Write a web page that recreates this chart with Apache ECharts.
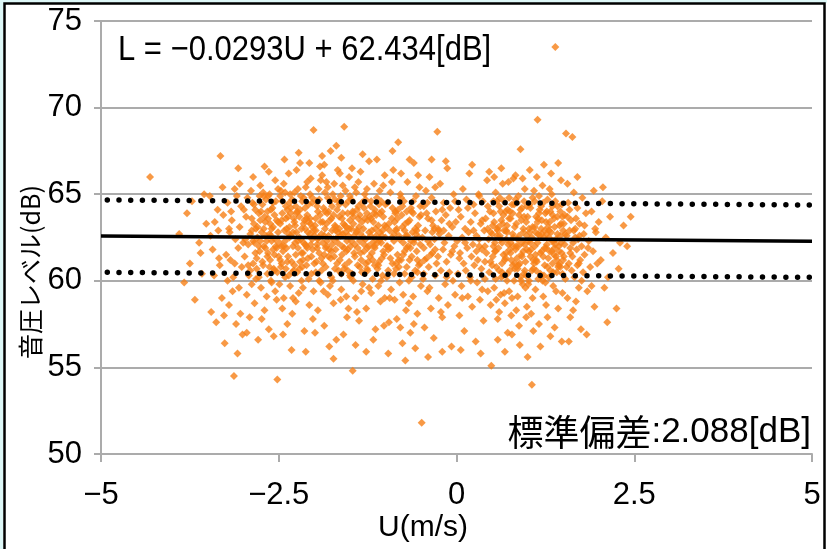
<!DOCTYPE html>
<html>
<head>
<meta charset="utf-8">
<script src="https://cdn.jsdelivr.net/npm/echarts@6/dist/echarts.min.js"></script>
<style>
  html, body { margin: 0; padding: 0; background: #ffffff; }
  #chart { width: 827px; height: 549px; }
</style>
</head>
<body>
<div id="chart"></div>
<script>
// Regression of sound level L [dB] against wind component U [m/s]
const slope = -0.0293;
const intercept = 62.434;
const stdDev = 2.088;

const xTicks = [-5, -2.5, 0, 2.5, 5];
const yTicks = [50, 55, 60, 65, 70, 75];

// Observations [U, L], grouped by U range
const ptsFarLeft = [[-4.31,66.0],[-3.83,59.9],[-3.75,61.0],[-3.79,63.9],[-3.72,64.6],[-3.62,62.2],[-3.58,60.4],[-3.55,65.0],[-3.68,58.9],[-3.52,63.3],[-3.9,62.7],[-3.6,61.6]];

const ptsNeg35 = [[-3.32,67.2],[-3.07,66.5],[-3.13,54.5],[-3.45,58.2],[-3.38,57.6],[-3.41,60.3],[-3.35,62.9],[-3.28,63.8],[-3.22,64.5],[-3.18,61.2],[-3.15,59.4],[-3.11,62.4],[-3.05,63.1],[-3.02,60.8],[-3.47,64.9],[-3.43,61.8],[-3.3,59.0],[-3.26,56.4],[-3.2,58.6],[-3.16,63.5],[-3.09,64.9],[-3.04,58.1],[-3.01,56.9],[-3.36,64.1],[-3.24,61.5],[-3.12,65.3],[-3.07,61.9],[-3.33,60.9],[-3.19,62.8],[-3.1,57.5],[-3.03,64.3],[-3.46,62.6],[-3.29,65.4],[-3.14,60.2],[-3.06,59.6],[-3.4,63.4],[-3.22,60.0],[-3.0,62.2],[-3.17,64.0],[-3.27,58.0],[-3.08,55.8],[-3.34,61.3],[-3.05,65.6],[-3.2,63.0],[-3.12,61.0]];

const ptsNeg30 = [[-2.98,61.4],[-2.96,63.7],[-2.95,59.2],[-2.94,64.8],[-2.93,62.1],[-2.91,57.9],[-2.9,60.6],[-2.89,65.2],[-2.88,62.9],[-2.86,61.0],[-2.85,63.3],[-2.84,58.7],[-2.83,64.1],[-2.82,60.1],[-2.8,62.5],[-2.79,56.6],[-2.78,63.9],[-2.77,61.7],[-2.76,65.5],[-2.75,59.6],[-2.74,62.8],[-2.73,64.4],[-2.72,60.9],[-2.71,63.0],[-2.7,58.3],[-2.69,61.9],[-2.68,64.7],[-2.67,62.3],[-2.66,60.4],[-2.65,63.6],[-2.64,57.2],[-2.63,65.0],[-2.62,61.2],[-2.61,62.6],[-2.6,59.9],[-2.59,64.2],[-2.58,63.1],[-2.57,60.7],[-2.56,61.5],[-2.55,65.8],[-2.54,62.0],[-2.53,58.9],[-2.52,54.3],[-2.51,63.4],[-2.97,62.4],[-2.92,60.3],[-2.87,64.5],[-2.81,61.3],[-2.76,63.5],[-2.71,62.0],[-2.66,64.0],[-2.61,60.0],[-2.56,63.8],[-2.53,61.9],[-2.99,64.1],[-2.9,62.7],[-2.84,62.2],[-2.78,60.2],[-2.72,65.1],[-2.67,59.1],[-2.62,63.3],[-2.58,61.8],[-2.54,64.6],[-2.95,57.0],[-2.86,66.0],[-2.74,57.8],[-2.64,66.3],[-2.57,56.8],[-2.82,63.0],[-2.69,63.4],[-2.6,62.3],[-2.52,60.5],[-2.93,60.9],[-2.77,64.9],[-2.65,61.6],[-2.55,59.4],[-2.88,59.8],[-2.7,66.6],[-2.63,62.7],[-2.51,65.3]];

const ptsNeg25 = [[-2.49,62.2],[-2.48,64.9],[-2.47,60.8],[-2.46,63.5],[-2.45,58.4],[-2.44,61.7],[-2.43,65.6],[-2.42,62.9],[-2.41,60.2],[-2.4,64.3],[-2.39,63.0],[-2.38,57.5],[-2.37,61.4],[-2.36,66.2],[-2.35,62.5],[-2.34,59.7],[-2.33,63.9],[-2.32,61.1],[-2.31,64.7],[-2.3,62.0],[-2.29,60.6],[-2.28,65.1],[-2.27,63.2],[-2.26,58.8],[-2.25,62.8],[-2.24,64.0],[-2.23,61.9],[-2.22,59.3],[-2.21,63.7],[-2.2,66.8],[-2.19,62.4],[-2.18,60.0],[-2.17,64.6],[-2.16,61.6],[-2.15,63.3],[-2.14,57.1],[-2.13,62.1],[-2.12,65.4],[-2.11,60.9],[-2.1,63.8],[-2.09,61.3],[-2.08,64.4],[-2.07,58.6],[-2.06,62.7],[-2.05,65.9],[-2.04,60.4],[-2.03,63.1],[-2.02,61.8],[-2.01,68.7],[-2.0,62.6],[-2.48,61.2],[-2.45,63.9],[-2.43,59.0],[-2.41,62.3],[-2.38,64.1],[-2.36,60.3],[-2.33,62.6],[-2.31,58.1],[-2.28,63.4],[-2.26,61.5],[-2.23,65.3],[-2.21,60.7],[-2.18,63.0],[-2.16,59.6],[-2.13,64.2],[-2.11,62.0],[-2.08,60.1],[-2.06,63.6],[-2.03,64.8],[-2.01,59.4],[-2.47,65.2],[-2.44,56.9],[-2.39,61.9],[-2.34,65.0],[-2.29,63.6],[-2.24,60.5],[-2.19,64.9],[-2.14,63.5],[-2.09,62.8],[-2.04,61.4],[-2.46,62.0],[-2.4,60.7],[-2.35,64.5],[-2.3,59.0],[-2.25,66.4],[-2.2,61.1],[-2.15,62.2],[-2.1,65.7],[-2.05,63.3],[-2.02,57.8],[-2.42,67.0],[-2.32,56.0],[-2.22,67.4],[-2.12,55.9],[-2.07,66.8],[-2.37,63.7],[-2.27,62.2],[-2.17,60.8],[-2.49,59.8],[-2.03,62.4]];

const ptsNeg20 = [[-1.99,63.2],[-1.98,60.5],[-1.97,64.6],[-1.96,62.1],[-1.95,58.3],[-1.94,65.3],[-1.93,61.6],[-1.92,63.8],[-1.91,59.9],[-1.9,62.7],[-1.89,66.1],[-1.88,61.0],[-1.87,64.2],[-1.86,57.4],[-1.85,63.0],[-1.84,60.8],[-1.83,65.7],[-1.82,62.3],[-1.81,59.2],[-1.8,64.0],[-1.79,61.8],[-1.78,63.5],[-1.77,67.5],[-1.76,60.2],[-1.75,62.9],[-1.74,65.0],[-1.73,58.7],[-1.72,61.4],[-1.71,64.7],[-1.7,63.1],[-1.69,56.6],[-1.68,62.5],[-1.67,66.4],[-1.66,60.6],[-1.65,63.7],[-1.64,61.2],[-1.63,64.9],[-1.62,59.5],[-1.61,62.0],[-1.6,65.5],[-1.59,63.3],[-1.58,68.9],[-1.57,60.9],[-1.56,64.4],[-1.55,61.7],[-1.54,57.9],[-1.53,63.9],[-1.52,62.6],[-1.51,66.0],[-1.5,60.3],[-1.98,62.9],[-1.96,64.3],[-1.93,60.0],[-1.91,65.8],[-1.88,63.4],[-1.86,61.5],[-1.83,62.0],[-1.81,64.8],[-1.78,59.7],[-1.76,63.6],[-1.73,62.4],[-1.71,60.7],[-1.68,64.1],[-1.66,62.8],[-1.63,58.9],[-1.61,63.6],[-1.58,61.9],[-1.56,65.2],[-1.53,60.6],[-1.51,63.0],[-1.97,61.1],[-1.92,66.6],[-1.87,59.4],[-1.82,63.9],[-1.77,61.3],[-1.72,65.6],[-1.67,62.2],[-1.62,60.4],[-1.57,63.2],[-1.52,64.6],[-1.99,57.0],[-1.89,67.2],[-1.79,56.2],[-1.69,67.8],[-1.59,56.9],[-1.94,62.5],[-1.84,61.9],[-1.74,60.0],[-1.64,66.2],[-1.54,62.3],[-1.95,64.0],[-1.85,65.1],[-1.75,64.3],[-1.65,63.0],[-1.55,59.1],[-1.9,61.3],[-1.8,62.6],[-1.7,61.8],[-1.6,62.7],[-1.5,63.5],[-1.62,67.1],[-1.73,55.5],[-1.86,66.7],[-1.52,58.4]];

const ptsNeg15 = [[-1.49,62.0],[-1.48,64.7],[-1.47,60.4],[-1.46,54.8],[-1.45,63.3],[-1.44,61.6],[-1.43,65.4],[-1.42,59.0],[-1.41,62.8],[-1.4,64.1],[-1.39,60.9],[-1.38,63.6],[-1.37,57.7],[-1.36,62.3],[-1.35,66.3],[-1.34,61.2],[-1.33,64.5],[-1.32,59.8],[-1.31,63.0],[-1.3,61.7],[-1.29,65.0],[-1.28,62.4],[-1.27,58.4],[-1.26,63.9],[-1.25,60.6],[-1.24,62.0],[-1.23,66.9],[-1.22,61.4],[-1.21,64.3],[-1.2,59.3],[-1.19,62.9],[-1.18,60.1],[-1.17,63.4],[-1.16,65.6],[-1.15,61.9],[-1.14,57.2],[-1.13,62.6],[-1.12,64.8],[-1.11,60.7],[-1.1,63.2],[-1.09,61.1],[-1.08,65.2],[-1.07,58.8],[-1.06,62.2],[-1.05,64.0],[-1.04,60.3],[-1.03,63.7],[-1.02,61.5],[-1.01,66.1],[-1.0,62.5],[-1.48,63.0],[-1.45,60.0],[-1.43,62.1],[-1.4,58.2],[-1.38,65.7],[-1.35,62.7],[-1.33,60.5],[-1.3,64.2],[-1.28,61.0],[-1.25,63.5],[-1.23,59.6],[-1.2,64.6],[-1.18,62.2],[-1.15,60.9],[-1.13,63.8],[-1.1,59.7],[-1.08,62.8],[-1.05,61.3],[-1.03,65.5],[-1.01,59.0],[-1.47,66.5],[-1.42,56.3],[-1.37,63.1],[-1.32,67.3],[-1.27,55.9],[-1.22,63.7],[-1.17,56.6],[-1.12,67.0],[-1.07,62.4],[-1.02,57.4],[-1.44,62.6],[-1.34,59.4],[-1.24,61.1],[-1.14,63.0],[-1.04,62.9],[-1.49,60.2],[-1.39,61.9],[-1.29,63.6],[-1.19,61.6],[-1.09,64.4],[-1.46,64.0],[-1.36,60.8],[-1.26,65.3],[-1.16,62.0],[-1.06,60.0]];

const ptsNeg10 = [[-0.99,63.1],[-0.98,60.2],[-0.97,64.5],[-0.96,61.8],[-0.95,57.6],[-0.94,62.9],[-0.93,65.1],[-0.92,59.5],[-0.91,63.6],[-0.9,61.0],[-0.89,66.4],[-0.88,62.3],[-0.87,58.9],[-0.86,64.0],[-0.85,60.7],[-0.84,63.0],[-0.83,61.5],[-0.82,68.0],[-0.81,62.6],[-0.8,59.9],[-0.79,65.0],[-0.78,61.2],[-0.77,63.8],[-0.76,56.4],[-0.75,62.2],[-0.74,64.6],[-0.73,60.4],[-0.72,63.3],[-0.71,58.3],[-0.7,61.9],[-0.69,65.7],[-0.68,62.0],[-0.67,60.0],[-0.66,63.5],[-0.65,57.0],[-0.64,64.2],[-0.63,61.4],[-0.62,62.8],[-0.61,59.1],[-0.6,66.8],[-0.59,62.4],[-0.58,60.6],[-0.57,64.9],[-0.56,61.7],[-0.55,58.1],[-0.54,63.2],[-0.53,60.9],[-0.52,65.4],[-0.51,62.1],[-0.5,59.7],[-0.49,51.8],[-0.97,62.0],[-0.94,59.0],[-0.91,65.7],[-0.88,60.4],[-0.85,62.9],[-0.82,64.1],[-0.79,57.3],[-0.76,63.1],[-0.73,61.7],[-0.7,64.0],[-0.67,58.7],[-0.64,62.3],[-0.61,63.9],[-0.58,56.1],[-0.55,61.2],[-0.52,63.7],[-0.96,55.8],[-0.9,67.5],[-0.84,57.8],[-0.78,66.2],[-0.72,55.4],[-0.66,67.0],[-0.6,57.5],[-0.54,66.1],[-0.93,61.9],[-0.87,63.4],[-0.81,60.8],[-0.75,59.2],[-0.69,62.6],[-0.63,60.2],[-0.57,62.7],[-0.51,61.0]];

const ptsNeg05 = [[-0.48,62.5],[-0.47,60.1],[-0.46,64.3],[-0.45,57.3],[-0.44,62.9],[-0.43,65.2],[-0.42,61.3],[-0.41,59.4],[-0.4,63.6],[-0.39,60.8],[-0.38,66.0],[-0.37,62.1],[-0.36,58.4],[-0.35,64.8],[-0.34,61.6],[-0.33,63.2],[-0.32,56.7],[-0.31,62.4],[-0.3,60.3],[-0.29,64.0],[-0.28,61.0],[-0.27,68.6],[-0.26,63.0],[-0.25,59.0],[-0.24,62.7],[-0.23,65.6],[-0.22,60.6],[-0.21,63.5],[-0.2,57.9],[-0.19,61.8],[-0.18,64.5],[-0.17,62.2],[-0.16,59.8],[-0.15,63.8],[-0.14,61.1],[-0.13,66.5],[-0.12,58.6],[-0.11,62.6],[-0.1,60.5],[-0.09,64.2],[-0.08,61.5],[-0.07,56.2],[-0.06,63.1],[-0.05,60.0],[-0.04,65.0],[-0.03,62.0],[-0.02,59.2],[-0.01,63.4],[-0.46,61.9],[-0.42,63.9],[-0.38,59.6],[-0.34,62.8],[-0.3,65.4],[-0.26,61.4],[-0.22,58.2],[-0.18,62.9],[-0.14,60.2],[-0.1,63.3],[-0.06,61.7],[-0.02,64.6],[-0.4,55.6],[-0.2,55.9],[-0.35,67.0],[-0.15,66.9]];

const ptsPos00 = [[0.01,62.3],[0.02,60.4],[0.03,64.1],[0.04,58.0],[0.05,61.6],[0.06,63.7],[0.07,59.7],[0.08,62.5],[0.09,65.3],[0.1,61.0],[0.11,57.1],[0.12,63.0],[0.13,60.6],[0.14,64.7],[0.15,61.9],[0.16,59.1],[0.17,62.8],[0.18,66.2],[0.19,60.2],[0.2,63.4],[0.21,61.4],[0.22,58.5],[0.23,62.1],[0.24,64.4],[0.25,60.9],[0.26,63.9],[0.27,56.5],[0.28,62.6],[0.29,59.9],[0.3,61.2],[0.31,65.0],[0.32,62.0],[0.33,58.9],[0.34,63.3],[0.35,60.7],[0.36,61.8],[0.37,64.6],[0.38,57.7],[0.39,62.9],[0.4,60.1],[0.41,63.6],[0.42,61.6],[0.43,65.8],[0.44,59.4],[0.45,62.4],[0.46,60.5],[0.47,64.0],[0.48,61.1],[0.49,55.1],[0.5,62.7],[0.04,61.3],[0.08,59.0],[0.12,62.2],[0.16,64.2],[0.2,60.0],[0.24,62.9],[0.28,61.7],[0.32,64.9],[0.36,59.5],[0.4,62.0],[0.44,63.0],[0.48,58.6],[0.06,56.0],[0.22,66.7],[0.34,55.8],[0.46,66.3]];

const ptsPos05 = [[0.51,61.4],[0.52,63.9],[0.53,59.6],[0.54,62.2],[0.55,65.1],[0.56,60.8],[0.57,63.0],[0.58,57.8],[0.59,61.9],[0.6,64.3],[0.61,62.6],[0.62,59.2],[0.63,63.5],[0.64,61.0],[0.65,65.6],[0.66,60.3],[0.67,62.9],[0.68,58.7],[0.69,64.0],[0.7,61.6],[0.71,63.2],[0.72,57.0],[0.73,62.1],[0.74,64.8],[0.75,60.6],[0.76,63.6],[0.77,61.2],[0.78,59.0],[0.79,62.7],[0.8,65.9],[0.81,60.0],[0.82,63.1],[0.83,61.8],[0.84,58.3],[0.85,64.5],[0.86,62.4],[0.87,60.9],[0.88,63.8],[0.89,56.3],[0.9,67.6],[0.91,61.5],[0.92,64.2],[0.93,59.8],[0.94,62.8],[0.95,60.4],[0.96,65.3],[0.97,61.1],[0.98,63.4],[0.99,58.5],[1.0,55.6],[0.52,62.0],[0.55,60.1],[0.57,64.6],[0.6,58.2],[0.62,62.4],[0.65,63.3],[0.67,59.3],[0.7,62.9],[0.72,64.1],[0.75,61.8],[0.77,58.0],[0.8,62.5],[0.82,60.7],[0.85,61.3],[0.87,64.9],[0.9,60.2],[0.92,62.2],[0.95,63.7],[0.97,59.6],[0.99,62.6],[0.53,66.0],[0.58,56.6],[0.63,66.5],[0.68,55.9],[0.73,65.7],[0.78,56.9],[0.83,66.1],[0.88,57.4],[0.93,65.9],[0.98,57.9],[0.54,61.7],[0.59,63.1],[0.64,60.5],[0.69,61.3],[0.74,59.4],[0.79,63.9],[0.84,62.0],[0.89,61.0],[0.94,61.7],[0.99,64.3],[0.56,58.9],[0.61,64.8],[0.66,61.5],[0.71,60.0],[0.76,62.2],[0.81,64.4],[0.86,59.1],[0.91,63.5],[0.96,60.6],[0.51,63.2]];

const ptsPos10 = [[1.01,62.3],[1.02,60.0],[1.03,64.4],[1.04,61.4],[1.05,58.1],[1.06,54.0],[1.07,63.1],[1.08,60.7],[1.09,65.2],[1.1,62.0],[1.11,59.5],[1.12,63.7],[1.13,61.1],[1.14,69.3],[1.15,62.7],[1.16,57.5],[1.17,64.1],[1.18,60.4],[1.19,63.0],[1.2,61.7],[1.21,65.5],[1.22,59.1],[1.23,62.5],[1.24,60.9],[1.25,63.9],[1.26,58.6],[1.27,62.1],[1.28,64.7],[1.29,61.3],[1.3,60.2],[1.31,63.4],[1.32,56.8],[1.33,62.8],[1.34,65.0],[1.35,61.0],[1.36,59.7],[1.37,63.6],[1.38,61.9],[1.39,73.5],[1.4,62.4],[1.41,60.5],[1.42,64.3],[1.43,58.4],[1.44,62.0],[1.45,63.2],[1.46,60.8],[1.47,65.8],[1.48,61.6],[1.49,59.3],[1.5,62.9],[1.02,63.0],[1.05,61.8],[1.07,59.0],[1.1,64.6],[1.12,61.2],[1.15,60.1],[1.17,62.6],[1.2,63.5],[1.22,61.4],[1.25,59.9],[1.27,64.0],[1.3,62.5],[1.32,60.6],[1.35,63.8],[1.37,61.5],[1.4,59.4],[1.42,62.7],[1.45,61.0],[1.47,63.3],[1.49,60.4],[1.03,66.4],[1.08,57.1],[1.13,66.0],[1.18,56.2],[1.23,66.7],[1.28,57.9],[1.33,66.2],[1.38,57.3],[1.43,66.8],[1.48,56.5],[1.04,62.2],[1.09,61.0],[1.14,63.4],[1.19,60.3],[1.24,62.9],[1.29,63.1],[1.34,61.7],[1.39,64.6],[1.44,60.9],[1.49,63.7],[1.06,60.6],[1.11,62.8],[1.16,64.9],[1.21,60.0],[1.26,61.9],[1.31,65.3],[1.36,62.3],[1.41,61.2],[1.46,64.0],[1.01,59.8]];

const ptsPos15 = [[1.51,61.4],[1.52,63.8],[1.53,60.1],[1.54,68.5],[1.55,62.6],[1.56,59.0],[1.57,64.5],[1.58,61.0],[1.59,62.9],[1.6,57.9],[1.61,63.5],[1.62,60.6],[1.63,68.3],[1.64,62.2],[1.65,65.1],[1.66,60.2],[1.67,63.0],[1.68,58.8],[1.69,61.8],[1.7,64.2],[1.71,62.4],[1.72,59.6],[1.73,63.3],[1.74,61.2],[1.75,57.2],[1.76,62.0],[1.77,64.8],[1.78,60.5],[1.79,62.7],[1.8,61.5],[1.82,63.9],[1.84,59.4],[1.86,62.3],[1.88,60.8],[1.9,64.0],[1.92,61.7],[1.94,58.5],[1.96,62.8],[1.98,61.0],[2.0,63.4],[1.52,62.1],[1.56,65.6],[1.6,61.6],[1.64,58.3],[1.68,63.6],[1.72,61.0],[1.76,60.0],[1.8,63.2],[1.85,61.9],[1.9,59.7],[1.95,63.0],[1.58,56.5],[1.7,66.0],[1.83,56.9],[1.93,65.2]];

const ptsFarRight = [[2.03,61.2],[2.05,64.6],[2.08,59.6],[2.1,62.5],[2.13,60.2],[2.16,63.7],[2.2,61.6],[2.25,58.4],[2.3,62.2],[2.35,63.2],[2.4,62.0],[2.45,63.7],[2.12,57.6],[2.28,60.7],[2.06,65.4]];

// Dense core of the two clusters
const ptsCoreWest = [[-2.88,63.6],[-2.85,64.4],[-2.83,61.6],[-2.8,63.1],[-2.78,62.0],[-2.75,64.0],[-2.73,61.1],[-2.7,63.7],[-2.68,62.6],[-2.65,64.9],[-2.63,60.8],[-2.6,63.0],[-2.58,64.5],[-2.55,62.4],[-2.53,63.5],[-2.5,61.4],[-2.48,63.3],[-2.45,64.6],[-2.43,62.0],[-2.4,63.6],[-2.38,61.1],[-2.35,63.1],[-2.33,64.2],[-2.3,62.8],[-2.28,60.9],[-2.25,63.9],[-2.23,62.3],[-2.2,64.1],[-2.18,61.6],[-2.15,64.8],[-2.13,63.0],[-2.1,61.9],[-2.08,63.4],[-2.05,62.1],[-2.03,64.5],[-2.0,61.0],[-1.98,63.6],[-1.95,62.4],[-1.93,64.7],[-1.9,60.6],[-1.88,62.2],[-1.85,64.0],[-1.83,63.3],[-1.8,61.4],[-1.78,64.6],[-1.75,62.1],[-1.73,63.8],[-1.7,62.9],[-1.68,61.0],[-1.65,64.4],[-1.63,62.6],[-1.6,63.9],[-1.58,60.7],[-1.55,63.1],[-1.53,61.8],[-1.5,64.9],[-1.48,62.3],[-1.45,63.7],[-1.43,61.4],[-1.4,62.9],[-1.38,64.3],[-1.35,61.6],[-1.33,63.4],[-1.3,62.1],[-1.28,64.7],[-1.25,61.9],[-1.23,62.8],[-1.2,63.6],[-1.18,61.2],[-1.15,64.1],[-1.13,62.4],[-1.1,60.9],[-1.08,63.9],[-1.05,62.6],[-1.03,61.7],[-1.0,64.4],[-0.98,62.0],[-0.95,63.3],[-0.93,61.3],[-0.9,64.2],[-0.88,62.7],[-0.85,61.0],[-0.83,63.6],[-0.8,62.4],[-0.78,64.8],[-0.75,61.5],[-0.73,62.9],[-0.7,60.8],[-0.68,63.4],[-0.65,61.9],[-0.63,64.0],[-0.6,62.2],[-0.58,63.0],[-0.55,60.5],[-0.53,62.5],[-0.5,63.8],[-0.45,61.2],[-0.4,62.3],[-0.35,63.5],[-0.3,61.8],[-2.86,62.3],[-2.81,60.7],[-2.76,62.3],[-2.71,64.9],[-2.66,61.4],[-2.61,64.1],[-2.56,60.6],[-2.51,62.8],[-2.46,61.0],[-2.41,65.1],[-2.36,62.7],[-2.31,60.5],[-2.26,64.3],[-2.21,62.5],[-2.16,61.2],[-2.11,63.6],[-2.06,65.0],[-2.01,62.9],[-1.96,61.9],[-1.91,63.4],[-1.86,62.6],[-1.81,65.4],[-1.76,61.7],[-1.71,63.2],[-1.66,64.6],[-1.61,61.5],[-1.56,62.8],[-1.51,61.1],[-1.46,63.9],[-1.41,65.1],[-1.36,63.8],[-1.31,62.5],[-1.26,60.7],[-1.21,62.6],[-1.16,63.9],[-1.11,62.2],[-1.06,64.6],[-1.01,63.2],[-0.96,60.6],[-0.91,62.5],[-0.86,63.9],[-0.81,61.2],[-0.76,64.3],[-0.71,62.6],[-0.66,61.2],[-0.61,64.6],[-0.56,62.9],[-0.51,64.3],[-0.46,60.4],[-0.41,64.5],[-0.36,61.5],[-0.31,63.0],[-0.25,62.9],[-0.2,64.1]];

const ptsCoreEast = [[0.32,62.4],[0.36,63.5],[0.4,61.1],[0.44,64.3],[0.48,62.8],[0.5,60.9],[0.53,63.4],[0.55,61.7],[0.57,62.6],[0.6,60.6],[0.62,64.0],[0.64,62.2],[0.66,63.8],[0.68,61.2],[0.7,62.4],[0.72,60.4],[0.74,63.6],[0.76,61.6],[0.78,64.4],[0.8,62.0],[0.82,61.0],[0.84,63.3],[0.86,60.7],[0.88,62.6],[0.9,64.1],[0.92,61.4],[0.94,63.0],[0.96,62.1],[0.98,60.3],[1.0,63.7],[1.02,61.7],[1.04,64.2],[1.06,62.5],[1.08,61.2],[1.1,63.1],[1.12,60.6],[1.14,62.2],[1.16,63.9],[1.18,61.6],[1.2,62.7],[1.22,64.5],[1.24,61.9],[1.26,63.4],[1.28,60.8],[1.3,62.9],[1.32,64.0],[1.34,62.3],[1.36,60.5],[1.38,63.1],[1.4,61.4],[1.42,63.7],[1.44,61.7],[1.46,62.6],[1.48,64.4],[1.5,61.2],[1.53,62.7],[1.56,63.7],[1.6,61.9],[1.65,62.9],[1.7,60.9],[0.52,64.6],[0.58,62.9],[0.63,60.2],[0.67,64.6],[0.71,62.8],[0.75,64.0],[0.79,60.9],[0.83,64.7],[0.87,62.0],[0.91,60.0],[0.95,64.6],[0.99,61.8],[1.03,62.8],[1.07,64.8],[1.11,61.5],[1.15,63.6],[1.19,64.3],[1.23,60.3],[1.27,62.7],[1.31,61.7],[1.35,64.3],[1.39,62.1],[1.43,60.8],[1.47,62.2],[1.51,63.3],[1.55,60.8],[1.59,64.1],[1.63,61.4],[1.67,62.5],[1.73,62.6]];

const observations = [].concat(ptsFarLeft, ptsNeg35, ptsNeg30, ptsNeg25, ptsNeg20, ptsNeg15,
  ptsNeg10, ptsNeg05, ptsPos00, ptsPos05, ptsPos10, ptsPos15, ptsFarRight,
  ptsCoreWest, ptsCoreEast);

const fitAt = u => intercept + slope * u;
const fitLine = [[xTicks[0], fitAt(xTicks[0])], [xTicks[4], fitAt(xTicks[4])]];
const upperBand = fitLine.map(p => [p[0], p[1] + stdDev]);
const lowerBand = fitLine.map(p => [p[0], p[1] - stdDev]);

const numFont = "'Liberation Sans', sans-serif";
const jpFont = "'Noto Sans CJK JP', sans-serif";
const gray = '#ABABAB';
const fmtNum = v => (v < 0 ? '\u2212' : '') + Math.abs(v);

const chart = echarts.init(document.getElementById('chart'), null, { renderer: 'canvas' });

const dotted = {
  color: '#000', width: 5.5, type: [0, 11.7], cap: 'round', dashOffset: 5.4
};

chart.setOption({
  animation: false,
  backgroundColor: '#ffffff',
  grid: { left: 101, right: 15, top: 21, bottom: 95, containLabel: false },
  xAxis: {
    type: 'value', min: xTicks[0], max: xTicks[4], interval: 2.5,
    axisLine: { show: true, onZero: false, lineStyle: { color: gray, width: 2 } },
    axisTick: { show: true, inside: false, length: 8, lineStyle: { color: gray, width: 2 } },
    splitLine: { show: false },
    axisLabel: { margin: 26, fontSize: 31, color: '#000', fontFamily: numFont, formatter: fmtNum }
  },
  yAxis: {
    type: 'value', min: yTicks[0], max: yTicks[5], interval: 5,
    axisLine: { show: true, onZero: false, lineStyle: { color: gray, width: 2 } },
    axisTick: { show: true, inside: false, length: 7, lineStyle: { color: gray, width: 2 } },
    splitLine: { show: true, lineStyle: { color: gray, width: 2 } },
    axisLabel: { margin: 19, fontSize: 31, color: '#000', fontFamily: numFont, formatter: fmtNum }
  },
  series: [
    {
      type: 'scatter', data: observations, symbol: 'diamond', symbolSize: 8,
      itemStyle: { color: '#F67F17' }, z: 2, silent: true
    },
    {
      type: 'line', data: fitLine, symbol: 'none', z: 3, silent: true,
      lineStyle: { color: '#000', width: 3.5 }
    },
    { type: 'line', data: upperBand, symbol: 'none', z: 3, silent: true, lineStyle: dotted },
    { type: 'line', data: lowerBand, symbol: 'none', z: 3, silent: true, lineStyle: dotted }
  ],
  graphic: [
    { type: 'rect', silent: true, shape: { x: 0, y: 0, width: 827, height: 3 }, style: { fill: '#DDF7F7' } },
    { type: 'rect', silent: true, shape: { x: 0, y: 0, width: 3, height: 549 }, style: { fill: '#DDF7F7' } },
    { type: 'rect', silent: true, shape: { x: 4.5, y: 3.5, width: 820, height: 560 },
      style: { fill: null, stroke: '#000', lineWidth: 2.5 } },
    {
      type: 'text', silent: true, x: 118, y: 50, scaleY: 1.12,
      style: {
        text: 'L = \u22120.0293U + 62.434[dB]', fill: '#000',
        font: "31px 'Liberation Sans', sans-serif",
        textVerticalAlign: 'middle'
      }
    },
    {
      type: 'text', silent: true, x: 811, y: 432,
      style: {
        text: '{j|標準偏差}{n|:2.088[dB]}',
        textAlign: 'right', textVerticalAlign: 'middle',
        rich: {
          j: { fontFamily: jpFont, fontSize: 36, fill: '#000', fontWeight: 'normal' },
          n: { fontFamily: numFont, fontSize: 35, fill: '#000' }
        }
      }
    },
    {
      type: 'text', silent: true, x: 30, y: 272, rotation: Math.PI / 2,
      style: {
        text: '音圧レベル(dB)', fill: '#000',
        font: "25px 'Noto Sans CJK JP', sans-serif",
        textAlign: 'center', textVerticalAlign: 'middle'
      }
    },
    {
      type: 'text', silent: true, x: 423, y: 528,
      style: {
        text: 'U(m/s)', fill: '#000',
        font: "30px 'Liberation Sans', sans-serif",
        textAlign: 'center', textVerticalAlign: 'middle'
      }
    }
  ]
});
</script>
</body>
</html>
